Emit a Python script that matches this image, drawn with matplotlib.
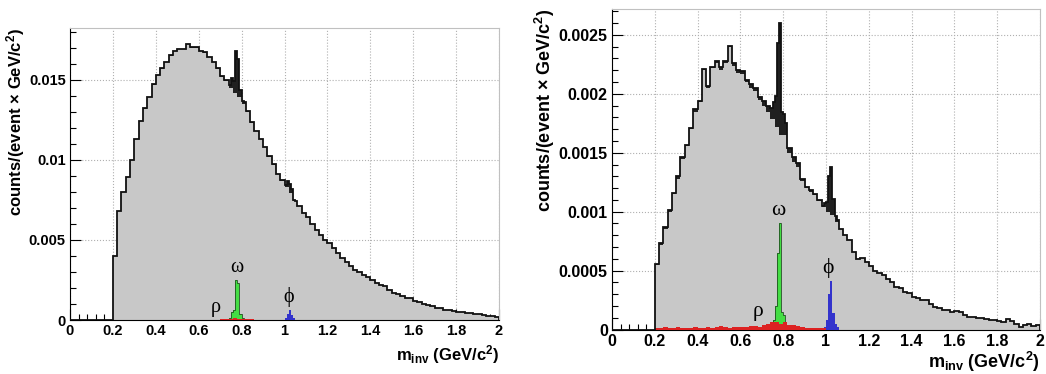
import numpy as np
import matplotlib
matplotlib.use("Agg")
import matplotlib.pyplot as plt
from matplotlib.ticker import MultipleLocator, FuncFormatter

plt.rcParams['font.family'] = ['Liberation Sans', 'DejaVu Sans']
plt.rcParams['font.weight'] = 'bold'
plt.rcParams['axes.labelweight'] = 'bold'
plt.rcParams['mathtext.fontset'] = 'custom'
plt.rcParams['mathtext.rm'] = 'Liberation Sans:bold'
plt.rcParams['mathtext.it'] = 'Liberation Sans:bold'
plt.rcParams['mathtext.bf'] = 'Liberation Sans:bold'
plt.rcParams['mathtext.default'] = 'rm'

# background (all pairs), 0.02 GeV bins from 0.20 to 2.00
bg_left = [0.0040, 0.0068, 0.0080, 0.0089, 0.0100, 0.0113, 0.0124, 0.0132, 0.0139, 0.0147,
           0.0153, 0.0157, 0.0161, 0.0165, 0.0168, 0.0169, 0.0169, 0.0172, 0.0170, 0.0170,
           0.0168, 0.0167, 0.0164, 0.0161, 0.0157, 0.0152, 0.0149, 0.0145, 0.0142, 0.0139,
           0.0135, 0.0130, 0.0123, 0.0118, 0.0113, 0.0108, 0.0102, 0.0097, 0.0091, 0.0087,
           0.0083, 0.0079, 0.0074, 0.0071, 0.0067, 0.0064, 0.0060, 0.0056, 0.0053, 0.0050,
           0.0048, 0.0045, 0.0042, 0.0039, 0.0036, 0.0034, 0.0031, 0.0030, 0.0028, 0.0027,
           0.0025, 0.0023, 0.0022, 0.0021, 0.0019, 0.0017, 0.0016, 0.0015, 0.0014, 0.00135,
           0.0012, 0.00115, 0.0010, 0.00094, 0.00088, 0.00078, 0.00073, 0.00065, 0.00062, 0.00058,
           0.00053, 0.00049, 0.00045, 0.00042, 0.00039, 0.00036, 0.00032, 0.00028, 0.00025, 0.00021]

bg_right = [0.00055, 0.00072, 0.00085, 0.00100, 0.00115, 0.00128, 0.00145, 0.00156, 0.00170, 0.00185,
            0.00193, 0.00220, 0.00205, 0.00222, 0.00226, 0.00220, 0.00226, 0.00240, 0.00224, 0.00218,
            0.00217, 0.00210, 0.00205, 0.00202, 0.00195, 0.00190, 0.00185, 0.00179, 0.00172, 0.00165,
            0.00165, 0.00150, 0.00142, 0.00138, 0.00126, 0.00120, 0.00117, 0.00114, 0.00109, 0.00104,
            0.00100, 0.00097, 0.00091, 0.00085, 0.00080, 0.00076, 0.00066, 0.00060, 0.00061, 0.00057,
            0.00054, 0.00050, 0.00048, 0.00046, 0.00043, 0.00040, 0.00036, 0.00035, 0.00032, 0.00031,
            0.00028, 0.00027, 0.00025, 0.00025, 0.00022, 0.00019, 0.00018, 0.000165, 0.000165, 0.00015,
            0.00016, 0.00015, 0.00012, 0.00011, 0.00011, 0.00010, 0.000095, 0.00009, 0.00008, 0.00008,
            0.00007, 0.000066, 0.00009, 0.00007, 0.00005, 0.00002, 0.00004, 0.00005, 0.00003, 0.00004]

# rho, 0.02 GeV bins from 0.20 to 1.00
rho_left = [0.00002] * 24 + [0.00003, 0.00005, 0.00007, 0.00009, 0.00010, 0.00009, 0.00008,
                             0.00006, 0.00004, 0.00003, 0.00002, 0.00002, 0.00001, 0.00001, 0.00001, 0.00001]
rho_right = [0.00001, 0.00001, 0.00002, 0.00001, 0.00001, 0.00002, 0.00001, 0.00001, 0.00001, 0.00002,
             0.00001, 0.00001, 0.00002, 0.00001, 0.00002, 0.00003, 0.00002, 0.00001, 0.00002, 0.00002,
             0.00002, 0.00002, 0.00003, 0.00003, 0.00002, 0.00004, 0.00005, 0.00006, 0.00006, 0.00005,
             0.00006, 0.00004, 0.00004, 0.00003, 0.00002, 0.00001, 0.00001, 0.00001, 0.00001, 0.00001]

# omega and phi, 0.01 GeV bins
omega_start = 0.74
omega_left = [0.0001, 0.0005, 0.0006, 0.0025, 0.0023, 0.0004, 0.0001]
omega_right = [0.00003, 0.00008, 0.00020, 0.00065, 0.00090, 0.00015, 0.00012, 0.00004]
phi_start_left = 1.00
phi_left = [0.0001, 0.0004, 0.0006, 0.0003, 0.0001]
phi_start_right = 0.99
phi_right = [0.00002, 0.00008, 0.00030, 0.00041, 0.00014, 0.00005, 0.00002]

edges = np.arange(201) * 0.01


def fine(values, start, width):
    out = np.zeros(200)
    v = np.repeat(values, width)
    i = int(round(start / 0.01))
    out[i:i + len(v)] = v
    return out


def panel(ax, bg, rho, omega, phi, phi_start, ymax, ymaj, ymin, labels, fs):
    b = fine(bg, 0.20, 2)
    r = fine(rho, 0.20, 2)
    w = fine(omega, omega_start, 1)
    p = fine(phi, phi_start, 1)
    tot = b + r + w + p
    ax.stairs(b, edges, fill=True, color='#c8c8c8', zorder=1)
    ax.stairs(tot, edges, baseline=b, fill=True, color='#202020', zorder=2)
    ax.stairs(w, edges, fill=True, color='#44dd44', zorder=3)
    ax.stairs(w, edges, color='#205020', lw=0.6, zorder=3)
    ax.stairs(p, edges, fill=True, color='#3333cc', zorder=3)
    ax.stairs(r, edges, fill=True, color='#dd2222', zorder=4)
    ax.stairs(tot, edges, color='#111111', lw=1.3, zorder=5)
    for s, (x, y) in labels.items():
        ax.text(x, y, s, ha='center', va='center', fontsize=fs + 4, fontweight='normal',
                family=['Liberation Serif', 'DejaVu Serif'], zorder=6)
    ax.set_xlim(0, 2)
    ax.set_ylim(0, ymax)
    ax.xaxis.set_major_locator(MultipleLocator(0.2))
    ax.xaxis.set_minor_locator(MultipleLocator(0.04))
    ax.yaxis.set_major_locator(MultipleLocator(ymaj))
    ax.yaxis.set_minor_locator(MultipleLocator(ymin))
    fmt = FuncFormatter(lambda v, pos: f"{v:g}")
    ax.xaxis.set_major_formatter(fmt)
    ax.yaxis.set_major_formatter(fmt)
    ax.tick_params(which='both', direction='in', labelsize=fs, pad=3, width=0.8)
    ax.tick_params(which='major', length=8)
    ax.tick_params(which='minor', length=4)
    for t in ax.get_xticklabels() + ax.get_yticklabels():
        t.set_fontweight('bold')
    ax.grid(True, which='major', ls=':', color='#b0b0b0', lw=0.8, zorder=0)
    ax.set_axisbelow(True)
    for side in ['top', 'right']:
        ax.spines[side].set_color('#c0c0c0')
    ax.set_xlabel(r"m$_{inv}$ (GeV/c$^{2}$)", fontsize=fs + 1.5, fontweight='bold', loc='right')
    ax.set_ylabel(r"counts/(event $\times$ GeV/c$^{2}$)", fontsize=fs + 1.5, fontweight='bold', loc='top')


fig = plt.figure(figsize=(10.46, 3.74), dpi=100)
ax1 = fig.add_axes([70 / 1046, 54 / 374, 429 / 1046, 292 / 374])
ax2 = fig.add_axes([612 / 1046, 44.5 / 374, 428 / 1046, 320.5 / 374])

panel(ax1, bg_left, rho_left, omega_left, phi_left, phi_start_left, 0.01823, 0.005, 0.001,
      {'ω': (0.78, 0.00325), 'ρ': (0.68, 0.00075), 'ϕ': (1.02, 0.00146)}, 10.5)
panel(ax2, bg_right, rho_right, omega_right, phi_right, phi_start_right, 0.00272, 0.0005, 0.0001,
      {'ω': (0.777, 0.00101), 'ρ': (0.68, 0.00015), 'ϕ': (1.011, 0.00052)}, 11.5)

ax1.yaxis.set_label_coords(-0.10, 1.0)
ax2.yaxis.set_label_coords(-0.128, 1.0)
ax1.xaxis.set_label_coords(1.0, -0.08)
ax2.xaxis.set_label_coords(1.0, -0.063)

fig.savefig("out.png", dpi=100)
